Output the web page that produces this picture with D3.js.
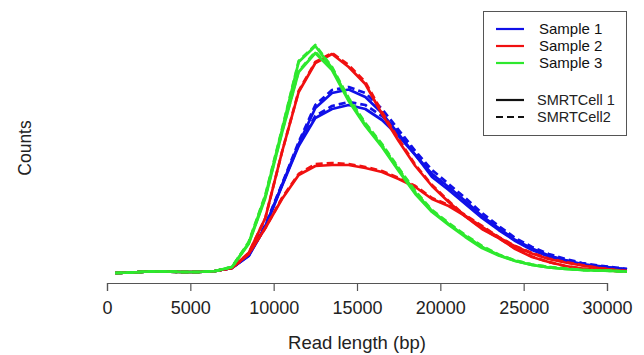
<!DOCTYPE html>
<html>
<head>
<meta charset="utf-8">
<script src="https://cdn.jsdelivr.net/npm/d3@7"></script>
<style>
  body { margin: 0; background: #fff; }
  svg { display: block; font-family: "Liberation Sans", Arial, sans-serif; }
</style>
</head>
<body>
<div id="chart"></div>
<script>
// read length bins (bp)
const readLength = [500, 1500, 2500, 3500, 4500, 5500, 6500, 7500, 8500, 9500, 10500, 11500, 12500, 13500, 14500, 15500,
  16500, 17500, 18500, 19500, 20500, 21500, 22500, 23500, 24500, 25500, 26500, 27500, 28500, 29500, 30500, 31200];

// counts (arbitrary units), two libraries per sample, SMRTCell 1 and 2
const sample1aCell1 = [3,3.5,4.5,4.5,4,4,5,8,20,50,91,132,168,183,186.5,179,163,142,121,102,89,75,60,48,36,27.5,20.5,16,12,10,8,7];
const sample1aCell2 = [3,3.5,4.5,4.5,4,4,5,8,21,51,92,134,171,186,189,183,167,146,125,106,92,78,63,50,38,29,22,17,13,10.5,8.5,7];
const sample1bCell1 = [3,3.5,4.5,4.5,4,4,5,8,20,49,90,130,158,167,171,167,156,140,121,99,86,72,58,46,35,26,19.5,15,11,9,7.5,6.5];
const sample1bCell2 = [3,3.5,4.5,4.5,4,4,5,8,21,50,91,131,160,170,174,171,160,144,124,102,88,74,60,48,36,27,20,15.5,11.5,9.5,8,6.5];

const sample2aCell1 = [3,3.5,4.5,4.5,4,4,5,8,23,58,124,184,213,222,209,192,162,135,110,90,74,59.5,47,38,27,19,14,10,7.5,6,5,4.5];
const sample2aCell2 = [3,3.5,4.5,4.5,4,4,5,8,23,58,124,185,214,223,211,194,164,137,111,91,75,60,47.5,38,27.5,19.5,14,10,7.5,6,5,4.5];
const sample2bCell1 = [3,3.5,4.5,4.5,4,4,5,8,22,48,77,101,110,111,111,108,104,97,89,77,70,60,49,38.5,29.5,22.5,17,13.5,10.5,8,6,5];
const sample2bCell2 = [3,3.5,4.5,4.5,4,4,5,8,22,48,78,102,112,113,112,109,105,98,90,78,71,61,50,39,30,23,17.5,14,11,8,6,5];

const sample3aCell1 = [3,3.5,4.5,4.5,4,4,5,9,33,80,146,214,230,208,176,151,130,106,83,65,52,40,29,21,15,11,8.5,7,6,5.5,5,4.5];
const sample3aCell2 = [3,3.5,4.5,4.5,4,4,5,9,34,81,147,215,231,209,178,153,132,108,85,66,53,41,30,21.5,15.5,11.5,9,7.5,6,5.5,5,4.5];
const sample3bCell1 = [3,3.5,4.5,4.5,4,4,5,9,32,78,143,204,223,206,175,150,129,105,82,64,51,39,28,20.5,15,11,8.5,7,6,5.5,5,4.5];
const sample3bCell2 = [3,3.5,4.5,4.5,4,4,5,9,33,79,144,205,224,207,177,152,131,107,84,65,52,40,29,21,15.5,11.5,9,7.5,6,5.5,5,4.5];

const xTicks = [0, 5000, 10000, 15000, 20000, 25000, 30000];
const sampleNames = ["Sample 1", "Sample 2", "Sample 3"];
const cellNames = ["SMRTCell 1", "SMRTCell2"];
const sampleColors = ["#1010e8", "#f01010", "#2ee82e"];

const series = [
  { sample: 0, cell: 0, values: sample1aCell1 }, { sample: 0, cell: 1, values: sample1aCell2 },
  { sample: 0, cell: 0, values: sample1bCell1 }, { sample: 0, cell: 1, values: sample1bCell2 },
  { sample: 1, cell: 0, values: sample2aCell1 }, { sample: 1, cell: 1, values: sample2aCell2 },
  { sample: 1, cell: 0, values: sample2bCell1 }, { sample: 1, cell: 1, values: sample2bCell2 },
  { sample: 2, cell: 0, values: sample3aCell1 }, { sample: 2, cell: 1, values: sample3aCell2 },
  { sample: 2, cell: 0, values: sample3bCell1 }, { sample: 2, cell: 1, values: sample3bCell2 },
];

const width = 644, height = 355;

const svg = d3.select("#chart")
  .append("svg")
    .attr("width", width)
    .attr("height", height);

// scales
const x = d3.scaleLinear().domain([0, 30000]).range([107, 607]);
const y = d3.scaleLinear().domain([0, 250]).range([276, 26]);

// x axis, R style
const xAxis = svg.append("g")
  .attr("transform", "translate(0,283)")
  .call(d3.axisBottom(x).tickValues(xTicks).tickFormat(d3.format("d")).tickSize(8).tickPadding(10));
xAxis.select(".domain").attr("stroke", "#555").attr("stroke-width", 1.2);
xAxis.selectAll(".tick line").attr("stroke", "#555").attr("stroke-width", 1.2);
xAxis.selectAll("text")
  .attr("font-family", "Liberation Sans, Arial, sans-serif")
  .attr("font-size", 18)
  .attr("fill", "#222");

svg.append("text")
  .attr("x", 357)
  .attr("y", 349)
  .attr("text-anchor", "middle")
  .attr("font-size", 18.5)
  .attr("fill", "#222")
  .text("Read length (bp)");

svg.append("text")
  .attr("transform", "translate(31,148)rotate(-90)")
  .attr("text-anchor", "middle")
  .attr("font-size", 17.5)
  .attr("fill", "#222")
  .text("Counts");

// lines
const line = d3.line()
  .x((d, i) => x(readLength[i]))
  .y(d => y(d));

svg.append("g")
  .selectAll("path")
  .data(series)
  .enter()
  .append("path")
    .attr("d", d => line(d.values))
    .attr("fill", "none")
    .attr("stroke", d => sampleColors[d.sample])
    .attr("stroke-width", 2.7)
    .attr("stroke-linejoin", "round")
    .attr("stroke-dasharray", d => d.cell === 1 ? "7,4" : null);

// legend
const legend = svg.append("g");
legend.append("rect")
  .attr("x", 483.5).attr("y", 11.5)
  .attr("width", 143).attr("height", 124)
  .attr("fill", "#fff")
  .attr("stroke", "#555")
  .attr("stroke-width", 1);

const sampleY = [29, 46, 63];
sampleNames.forEach((name, i) => {
  legend.append("line")
    .attr("x1", 496).attr("x2", 524)
    .attr("y1", sampleY[i]).attr("y2", sampleY[i])
    .attr("stroke", sampleColors[i])
    .attr("stroke-width", 2.2);
  legend.append("text")
    .attr("x", 539).attr("y", sampleY[i] + 5)
    .attr("font-size", 15)
    .attr("fill", "#111")
    .text(name);
});

const cellY = [100, 117];
cellNames.forEach((name, i) => {
  legend.append("line")
    .attr("x1", 496).attr("x2", 524)
    .attr("y1", cellY[i]).attr("y2", cellY[i])
    .attr("stroke", "#111")
    .attr("stroke-width", 2.2)
    .attr("stroke-dasharray", i === 1 ? "7,4" : null);
  legend.append("text")
    .attr("x", 537).attr("y", cellY[i] + 5)
    .attr("font-size", 14.5)
    .attr("fill", "#222")
    .text(name);
});
</script>
</body>
</html>
